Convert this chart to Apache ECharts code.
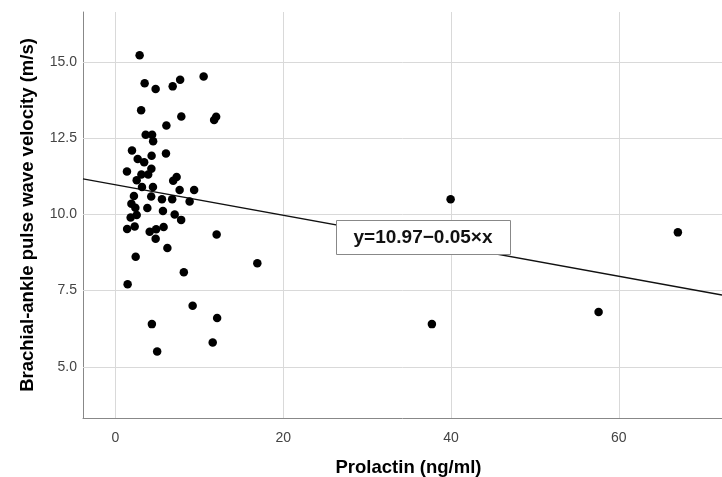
<!DOCTYPE html>
<html>
<head>
<meta charset="utf-8">
<script src="https://cdn.jsdelivr.net/npm/echarts@6/dist/echarts.min.js"></script>
<style>html,body{margin:0;padding:0;background:#fff}#c{width:722px;height:477px}</style>
</head>
<body>
<div id="c"></div>
<script>
// Prolactin (ng/ml)
var prolactin = [2.88,3.48,4.79,6.82,7.71,10.51,3.06,7.85,12.00,11.76,6.07,3.60,4.37,4.49,1.97,4.31,6.02,2.65,3.42,1.37,4.28,3.09,3.90,7.29,6.88,2.53,3.16,4.47,7.65,9.38,2.20,4.26,5.54,6.76,8.84,1.90,2.37,3.80,5.66,7.06,2.53,1.81,7.83,1.39,2.29,4.08,4.85,5.74,4.79,12.06,6.19,2.41,8.15,1.45,16.91,9.20,12.12,4.34,11.59,4.97,39.95,67.04,37.72,57.59];
// Brachial-ankle pulse wave velocity (m/s)
var bapwv = [15.22,14.30,14.11,14.20,14.42,14.52,13.42,13.21,13.20,13.10,12.92,12.61,12.61,12.40,12.10,11.92,12.00,11.82,11.71,11.41,11.50,11.31,11.31,11.23,11.10,11.12,10.90,10.90,10.80,10.80,10.60,10.59,10.50,10.50,10.42,10.35,10.22,10.21,10.11,10.00,9.98,9.90,9.82,9.52,9.60,9.43,9.51,9.59,9.20,9.34,8.90,8.61,8.10,7.71,8.40,7.00,6.60,6.40,5.80,5.50,10.50,9.41,6.40,6.80];
var xTicks = [0, 20, 40, 60];
var yTicks = [5.0, 7.5, 10.0, 12.5, 15.0];
var intercept = 10.97;
var slope = -0.05;
var xRange = [-3.87, 72.3];
var yRange = [3.32, 16.64];
var equationText = 'y=10.97\u22120.05\u00d7x';

var points = prolactin.map(function (x, i) { return [x, bapwv[i]]; });
var fitLine = xRange.map(function (x) { return [x, intercept + slope * x]; });

var chart = echarts.init(document.getElementById('c'), null, {renderer: 'canvas'});
var FONT = 'Liberation Sans, Arial, sans-serif';
var gridStyle = {color: '#d9d9d9', width: 1, type: 'solid'};
var markData = xTicks.map(function (v) { return {xAxis: v}; })
  .concat(yTicks.map(function (v) { return {yAxis: v}; }));

chart.setOption({
  animation: false,
  backgroundColor: '#fff',
  grid: {left: 83, top: 12, right: 0, bottom: 59, containLabel: false, outerBoundsMode: 'none'},
  xAxis: {
    type: 'value', min: xRange[0], max: xRange[1],
    name: 'Prolactin (ng/ml)', nameLocation: 'middle', nameGap: 40,
    nameTextStyle: {fontFamily: FONT, fontSize: 18.5, fontWeight: 'bold', color: '#000', padding: [0, 0, 0, 12]},
    axisLine: {show: true, onZero: false, lineStyle: {color: '#888', width: 1}},
    axisTick: {show: false},
    splitLine: {show: false},
    axisLabel: {customValues: xTicks, margin: 13, fontFamily: FONT, fontSize: 14, color: '#444', formatter: function (v) { return String(v); }}
  },
  yAxis: {
    type: 'value', min: yRange[0], max: yRange[1],
    name: 'Brachial-ankle pulse wave velocity (m/s)', nameLocation: 'middle', nameGap: 46,
    nameTextStyle: {fontFamily: FONT, fontSize: 18.5, fontWeight: 'bold', color: '#000'},
    axisLine: {show: true, onZero: false, lineStyle: {color: '#888', width: 1}},
    axisTick: {show: false},
    splitLine: {show: false},
    axisLabel: {customValues: yTicks, margin: 6, fontFamily: FONT, fontSize: 14, color: '#444', formatter: function (v) { return v.toFixed(1); }}
  },
  series: [
    {
      type: 'line', data: [], silent: true, z: 1,
      markLine: {symbol: 'none', silent: true, label: {show: false}, lineStyle: gridStyle, data: markData, animation: false, z: 1}
    },
    {
      type: 'line', data: fitLine, showSymbol: false, symbol: 'none',
      lineStyle: {color: '#111', width: 1.4}, z: 3, clip: true
    },
    {
      type: 'scatter', data: points, symbol: 'circle', symbolSize: 8.5,
      itemStyle: {color: '#000', opacity: 1}, z: 4
    }
  ],
  graphic: [
    {type: 'rect', left: 336, top: 220, z: 100, shape: {width: 174, height: 34}, style: {fill: '#fff', stroke: '#888', lineWidth: 1}},
    {type: 'text', x: 423, y: 238, z: 101, style: {text: equationText, fontFamily: FONT, fontSize: 19, fontWeight: 'bold', fill: '#111', align: 'center', verticalAlign: 'middle'}}
  ]
});
</script>
</body>
</html>
